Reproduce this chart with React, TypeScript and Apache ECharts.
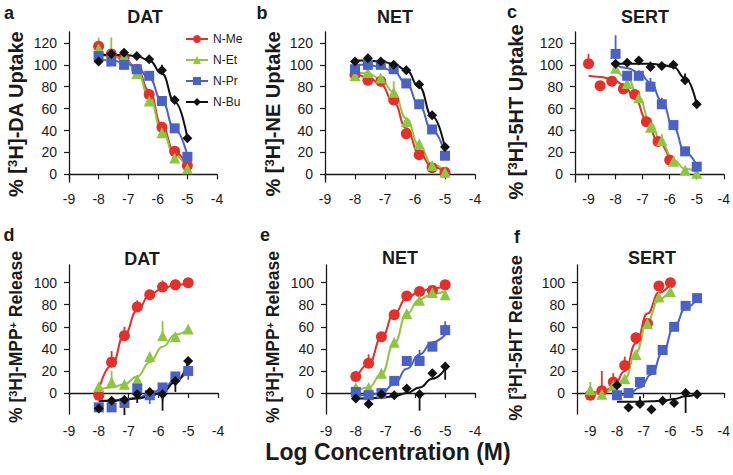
import React, { useEffect, useRef } from 'react';
import * as echarts from 'echarts';

// ---- x positions (log molar concentration) ----
const xs8 = [-8, -7.57, -7.14, -6.71, -6.29, -5.86, -5.43, -5];
const xs9 = [-9, -8.57, -8.14, -7.71, -7.29, -6.86, -6.43, -6];

// ---- tick labels ----
const xTicks = [-9, -8, -7, -6, -5, -4];
const yTicksUptake = [0, 20, 40, 60, 80, 100, 120];
const yTicksRelease = [0, 20, 40, 60, 80, 100];

// ---- compounds ----
const compounds = ['N-Me', 'N-Et', 'N-Pr', 'N-Bu'];

// ---- panel a: DAT uptake ----
const aMe = [117, 110, 106, 96, 73, 43, 21, 8];
const aMeFit = [110, 109, 106, 97, 76, 44, 20, 8];
const aMeErr = [5, 0, 0, 0, 0, 0, 0, 0];
const aEt = [115, 108, 108, 92, 67, 38, 15, 5];
const aEtFit = [109, 108, 105, 95, 71, 40, 17, 6];
const aEtErr = [10, 17, 7, 0, 0, 0, 0, 0];
const aPr = [108, 103, 100, 96, 90, 67, 42, 16];
const aPrFit = [105, 104, 102, 98, 88, 67, 41, 17];
const aPrErr = [0, 0, 0, 0, 0, 0, 0, 0];
const aBu = [103, 110, 111, 108, 105, 95, 68, 33];
const aBuFit = [109, 109, 109, 108, 104, 92, 66, 33];
const aBuErr = [0, 0, 0, 0, 0, 5, 0, 0];

// ---- panel b: NET uptake ----
const bMe = [91, 86, 85, 68, 37, 18, 6, 2];
const bMeFit = [93, 89, 82, 66, 42, 19, 7, 2];
const bMeErr = [0, 0, 0, 0, 0, 0, 0, 0];
const bEt = [90, 93, 88, 75, 48, 28, 8, 2];
const bEtFit = [94, 92, 87, 75, 51, 26, 9, 3];
const bEtErr = [0, 0, 0, 10, 0, 0, 0, 0];
const bPr = [96, 100, 100, 96, 83, 64, 41, 17];
const bPrFit = [100, 100, 98, 94, 83, 63, 40, 19];
const bPrErr = [0, 0, 0, 0, 0, 0, 0, 0];
const bBu = [103, 106, 103, 100, 95, 82, 54, 25];
const bBuFit = [104, 104, 103, 101, 95, 80, 53, 24];
const bBuErr = [0, 4, 0, 0, 0, 0, 0, 0];

// ---- panel c: SERT uptake ----
const cMe = [101, 81, 85, 78, 73, 48, 30, 13];
const cMeFit = [90, 89, 87, 82, 70, 50, 30, 13];
const cMeErr = [9, 0, 0, 0, 0, 0, 0, 0];
const cEt = [97, 83, 70, 43, 31, 12, 4, 1];
const cEtFit = [97, 88, 70, 47, 28, 13, 5, 2];
const cEtErr = [0, 0, 0, 8, 6, 0, 0, 0];
const cPr = [110, 90, 90, 80, 64, 45, 21, 7];
const cPrFit = [100, 97, 93, 84, 67, 43, 20, 8];
const cPrErr = [17, 0, 5, 8, 6, 0, 0, 0];
const cBu = [101, 102, 104, 98, 99, 100, 86, 64];
const cBuFit = [101, 101, 101, 101, 100, 98, 88, 64];
const cBuErr = [0, 0, 0, 5, 0, 0, 6, 0];

// ---- panel d: DAT release ----
const dMe = [-2, 28, 52, 78, 89, 96, 98, 100];
const dMeFit = [3, 25, 53, 75, 89, 95, 98, 99];
const dMeErr = [0, 10, 8, 6, 3, 6, 0, 0];
const dEt = [6, 10, 8, 12, 33, 52, 51, 58];
const dEtFit = [3, 5, 8, 15, 28, 42, 53, 58];
const dEtErr = [0, 10, 0, 4, 0, 13, 0, 0];
const dPr = [-13, -13, -9, 4, -2, 5, 15, 20];
const dPrFit = [-8, -7, -6, -4, -1, 4, 12, 20];
const dPrErr = [0, 0, 0, 0, -8, -12, -8, -8];
const dBu = [-14, -7, -6, -1, 1, -1, 11, 29];
const dBuFit = [-7, -7, -6, -5, -3, 1, 10, 28];
const dBuErr = [0, 0, -14, -8, 0, -15, -10, 0];

// ---- panel e: NET release ----
const eMe = [15, 27, 51, 71, 88, 92, 93, 98];
const eMeFit = [12, 26, 50, 72, 86, 92, 95, 96];
const eMeErr = [0, 8, 0, 0, 0, 0, 0, 0];
const eEt = [5, 5, 18, 46, 72, 84, 91, 89];
const eEtFit = [1, 5, 17, 45, 72, 85, 90, 92];
const eEtErr = [0, 0, 0, 0, 0, 0, 0, 0];
const ePr = [1, -2, 0, 11, 29, 29, 42, 57];
const ePrFit = [-2, -2, 0, 8, 22, 35, 46, 53];
const ePrErr = [0, 0, 0, 0, 0, 10, 0, 8];
const eBu = [-5, -10, -1, -2, 4, -1, 18, 24];
const eBuFit = [-5, -5, -4, -3, 0, 5, 13, 22];
const eBuErr = [0, 0, 0, 0, 0, -15, 0, -12];

// ---- panel f: SERT release ----
const fMe = [-2, 2, 10, 25, 50, 63, 97, 100];
const fMeFit = [0, 1, 5, 20, 45, 72, 91, 99];
const fMeErr = [0, 18, 8, 8, 0, 0, 0, 0];
const fEt = [3, -1, 7, 13, 35, 63, 87, 92];
const fEtFit = [-1, 0, 3, 13, 37, 65, 85, 94];
const fEtErr = [7, 0, 0, 0, 0, 0, 0, 0];
const fPr = [-2, 0, 10, 21, 39, 60, 79, 86];
const fPrFit = [-3, -1, 5, 17, 37, 60, 77, 86];
const fPrErr = [0, 0, 0, 0, 0, 0, 0, 0];
const fBu = [7, -13, -10, -15, -7, -9, 0, -1];
const fBuFit = [-8, -8, -8, -7.5, -7, -5.5, -3, -1];
const fBuErr = [0, 0, 7, 0, 0, 0, -18, 0];

// ---- styles ----
const FONT = 'Liberation Sans, Arial, Helvetica, sans-serif';
const INK = '#1a1a1a';
const COLOR: Record<string, string> = { 'N-Me': '#e3302b', 'N-Et': '#8dc63f', 'N-Pr': '#4a62c6', 'N-Bu': '#111111' };
const SYMBOL: Record<string, string> = { 'N-Me': 'circle', 'N-Et': 'triangle', 'N-Pr': 'rect', 'N-Bu': 'diamond' };
const SIZE: Record<string, number> = { 'N-Me': 11, 'N-Et': 11, 'N-Pr': 10, 'N-Bu': 10 };

type Comp = { name: string; x: number[]; y: number[]; fit: number[]; err: number[] };

const panels: { comps: Comp[] }[] = [
  { comps: [
    { name: 'N-Me', x: xs8, y: aMe, fit: aMeFit, err: aMeErr },
    { name: 'N-Et', x: xs8, y: aEt, fit: aEtFit, err: aEtErr },
    { name: 'N-Pr', x: xs8, y: aPr, fit: aPrFit, err: aPrErr },
    { name: 'N-Bu', x: xs8, y: aBu, fit: aBuFit, err: aBuErr },
  ] },
  { comps: [
    { name: 'N-Me', x: xs8, y: bMe, fit: bMeFit, err: bMeErr },
    { name: 'N-Et', x: xs8, y: bEt, fit: bEtFit, err: bEtErr },
    { name: 'N-Pr', x: xs8, y: bPr, fit: bPrFit, err: bPrErr },
    { name: 'N-Bu', x: xs8, y: bBu, fit: bBuFit, err: bBuErr },
  ] },
  { comps: [
    { name: 'N-Me', x: xs9, y: cMe, fit: cMeFit, err: cMeErr },
    { name: 'N-Et', x: xs8, y: cEt, fit: cEtFit, err: cEtErr },
    { name: 'N-Pr', x: xs8, y: cPr, fit: cPrFit, err: cPrErr },
    { name: 'N-Bu', x: xs8, y: cBu, fit: cBuFit, err: cBuErr },
  ] },
  { comps: [
    { name: 'N-Me', x: xs8, y: dMe, fit: dMeFit, err: dMeErr },
    { name: 'N-Et', x: xs8, y: dEt, fit: dEtFit, err: dEtErr },
    { name: 'N-Pr', x: xs8, y: dPr, fit: dPrFit, err: dPrErr },
    { name: 'N-Bu', x: xs8, y: dBu, fit: dBuFit, err: dBuErr },
  ] },
  { comps: [
    { name: 'N-Me', x: xs8, y: eMe, fit: eMeFit, err: eMeErr },
    { name: 'N-Et', x: xs8, y: eEt, fit: eEtFit, err: eEtErr },
    { name: 'N-Pr', x: xs8, y: ePr, fit: ePrFit, err: ePrErr },
    { name: 'N-Bu', x: xs8, y: eBu, fit: eBuFit, err: eBuErr },
  ] },
  { comps: [
    { name: 'N-Me', x: xs9, y: fMe, fit: fMeFit, err: fMeErr },
    { name: 'N-Et', x: xs9, y: fEt, fit: fEtFit, err: fEtErr },
    { name: 'N-Pr', x: xs8, y: fPr, fit: fPrFit, err: fPrErr },
    { name: 'N-Bu', x: xs8, y: fBu, fit: fBuFit, err: fBuErr },
  ] },
];

// layout
const grids = [
  { left: 69, top: 32, width: 148, height: 150 },
  { left: 325, top: 32, width: 150, height: 150 },
  { left: 575, top: 32, width: 151, height: 150 },
  { left: 69, top: 265, width: 149, height: 149 },
  { left: 326, top: 265, width: 149, height: 149 },
  { left: 577, top: 265, width: 148, height: 149 },
];
const xMins = [-9, -9, -9.5, -9, -9, -9.5];
const panelTitles = ['DAT', 'NET', 'SERT', 'DAT', 'NET', 'SERT'];
const titlePos = [[145, 17], [395, 17], [645, 17], [142, 259], [400, 258], [652, 258]];
const letters = ['a', 'b', 'c', 'd', 'e', 'f'];
const letterPos = [[9, 13], [262, 13], [512, 12], [9, 235], [265, 235], [517, 237]];
const yNames = [
  '% [{s|3}H]-DA Uptake',
  '% [{s|3}H]-NE Uptake',
  '% [{s|3}H]-5HT Uptake',
  '% [{s|3}H]-MPP{s|+} Release',
  '% [{s|3}H]-MPP{s|+} Release',
  '% [{s|3}H]-5HT Release',
];
const yNamePos = [[16, 114], [273, 114], [516, 112], [16, 337], [273, 337], [516, 338]];
const yNameSize = [20, 20, 20, 17.5, 17.5, 18];

export default function App() {
  const ref = useRef<HTMLDivElement>(null);
  useEffect(() => {
    if (!ref.current) return;
    const chart = echarts.init(ref.current, undefined, { renderer: 'svg' });

    const xAxis = grids.map((_, i) => ({
      type: 'value',
      gridIndex: i,
      min: xMins[i],
      max: -4,
      axisLine: { show: true, lineStyle: { color: INK, width: 1.3 } },
      axisTick: { show: true, length: 5, lineStyle: { color: INK, width: 1.2 }, customValues: xTicks },
      axisLabel: { customValues: xTicks, fontSize: 14, color: INK, fontFamily: FONT, margin: 10 },
      splitLine: { show: false },
    }));
    const yAxis = grids.map((_, i) => {
      const top = i < 3;
      const ticks = top ? yTicksUptake : yTicksRelease;
      return {
        type: 'value',
        gridIndex: i,
        min: top ? -7 : -19,
        max: top ? 130 : 116,
        axisLine: { show: true, lineStyle: { color: INK, width: 1.3 } },
        axisTick: { show: true, length: 5, lineStyle: { color: INK, width: 1.2 }, customValues: ticks },
        axisLabel: { customValues: ticks, fontSize: 14, color: INK, fontFamily: FONT, margin: 12 },
        splitLine: { show: false },
      };
    });

    const series: any[] = [];
    panels.forEach((p, pi) => {
      p.comps.forEach((c) => {
        const color = COLOR[c.name];
        series.push({
          type: 'line',
          name: `${c.name}-fit-${pi}`,
          xAxisIndex: pi,
          yAxisIndex: pi,
          data: c.x.map((v, i) => [v, c.fit[i]]),
          smooth: 0.5,
          smoothMonotone: 'x',
          symbol: 'none',
          showSymbol: false,
          lineStyle: { color, width: 2 },
          silent: true,
          z: 2,
        });
        series.push({
          type: 'custom',
          name: `${c.name}-err-${pi}`,
          xAxisIndex: pi,
          yAxisIndex: pi,
          data: c.x.map((v, i) => [v, c.y[i], c.err[i]]),
          renderItem: (params: any, api: any) => {
            const e = api.value(2);
            if (!e) return null;
            const p1 = api.coord([api.value(0), api.value(1)]);
            const p2 = api.coord([api.value(0), api.value(1) + e]);
            return {
              type: 'line',
              shape: { x1: p1[0], y1: p1[1], x2: p2[0], y2: p2[1] },
              style: { stroke: color, lineWidth: 1.8 },
            };
          },
          silent: true,
          z: 3,
        });
        series.push({
          type: 'scatter',
          name: `${c.name}-pts-${pi}`,
          xAxisIndex: pi,
          yAxisIndex: pi,
          data: c.x.map((v, i) => [v, c.y[i]]),
          symbol: SYMBOL[c.name],
          symbolSize: SIZE[c.name],
          itemStyle: { color, opacity: 1 },
          silent: true,
          z: 4,
        });
      });
    });
    // legend-only series
    compounds.forEach((n) => {
      series.push({
        type: 'line',
        name: n,
        xAxisIndex: 0,
        yAxisIndex: 0,
        data: [],
        symbol: SYMBOL[n],
        symbolSize: SIZE[n],
        itemStyle: { color: COLOR[n] },
        lineStyle: { color: COLOR[n], width: 2 },
      });
    });

    const graphic: any[] = [];
    panelTitles.forEach((t, i) => {
      graphic.push({
        type: 'text',
        x: titlePos[i][0],
        y: titlePos[i][1],
        style: { text: t, fontSize: 18, fontWeight: 'bold', fontFamily: FONT, fill: INK, align: 'center', verticalAlign: 'middle' },
      });
    });
    letters.forEach((t, i) => {
      graphic.push({
        type: 'text',
        x: letterPos[i][0],
        y: letterPos[i][1],
        style: { text: t, fontSize: 18, fontWeight: 'bold', fontFamily: FONT, fill: INK, align: 'center', verticalAlign: 'middle' },
      });
    });
    yNames.forEach((t, i) => {
      const fs = yNameSize[i];
      graphic.push({
        type: 'text',
        x: yNamePos[i][0],
        y: yNamePos[i][1],
        rotation: Math.PI / 2,
        style: {
          text: t,
          fontSize: fs,
          fontWeight: 'bold',
          fontFamily: FONT,
          fill: INK,
          align: 'center',
          verticalAlign: 'middle',
          rich: {
            s: { fontSize: Math.round(fs * 0.65), fontWeight: 'bold', fontFamily: FONT, fill: INK, verticalAlign: 'top' },
          },
        },
      });
    });
    graphic.push({
      type: 'text',
      x: 388,
      y: 452,
      style: { text: 'Log Concentration (M)', fontSize: 23, fontWeight: 'bold', fontFamily: FONT, fill: INK, align: 'center', verticalAlign: 'middle' },
    });

    chart.setOption({
      animation: false,
      backgroundColor: '#ffffff',
      grid: grids.map((g) => ({ ...g, containLabel: false })),
      xAxis,
      yAxis,
      legend: {
        data: compounds,
        orient: 'vertical',
        left: 180,
        top: 28,
        itemWidth: 22,
        itemHeight: 10,
        itemGap: 9,
        selectedMode: false,
        textStyle: { fontSize: 12, color: INK, fontFamily: FONT },
      },
      series,
      graphic,
    });
    return () => chart.dispose();
  }, []);
  return <div ref={ref} style={{ position: 'absolute', left: 0, top: 0, width: 733, height: 475, background: '#fff' }} />;
}
